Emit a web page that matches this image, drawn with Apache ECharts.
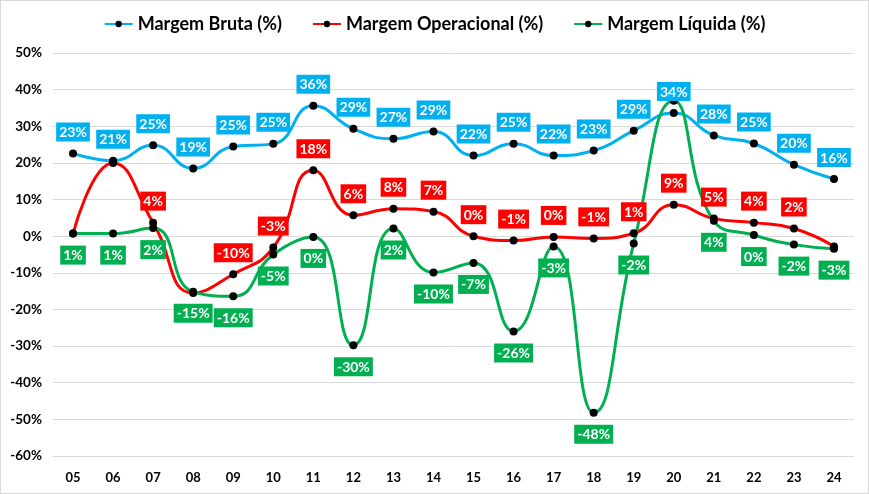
<!DOCTYPE html>
<html>
<head>
<meta charset="utf-8">
<script src="https://cdn.jsdelivr.net/npm/echarts@6/dist/echarts.min.js"></script>
<style>
html,body{margin:0;padding:0;background:#fff;}
#c{width:869px;height:494px;box-sizing:border-box;border:1px solid #d9d9d9;}
</style>
</head>
<body>
<div id="c"></div>
<script>
var categories = ['05','06','07','08','09','10','11','12','13','14','15','16','17','18','19','20','21','22','23','24'];
var margemBruta = [22.6,20.6,24.8,18.5,24.5,25.2,35.6,29.3,26.6,28.6,22.0,25.2,22.0,23.4,28.8,33.6,27.5,25.3,19.5,15.6];
var margemOperacional = [0.7,20.0,3.7,-15.5,-10.4,-3.1,18.0,5.7,7.5,6.7,0.0,-1.2,-0.2,-0.6,0.8,8.6,4.8,3.7,2.1,-2.8];
var margemLiquida = [0.7,0.7,2.2,-15.2,-16.4,-5.0,-0.2,-29.8,2.1,-9.9,-7.3,-26.0,-2.8,-48.2,-2.0,37.0,4.2,0.3,-2.3,-3.4];
var hiddenOperacional = [0,1,3,19];
var hiddenLiquida = [15];

var FONT = 'Lato, Carlito, Calibri, sans-serif';
function build(values, hidden){
  return values.map(function(v,i){
    var o = {value:v};
    if (hidden.indexOf(i) >= 0) o.label = {show:false};
    return o;
  });
}
function fmt(p){ var r = Math.round(p.value); if (r === 0) r = 0; return r + '%'; }
function mkSeries(name, color, values, hidden, pos){
  return {
    name: name, type: 'line', smooth: 0.5,
    data: build(values, hidden),
    symbol: 'circle', symbolSize: 8,
    itemStyle: {color: '#000'},
    lineStyle: {color: color, width: 3},
    label: {
      show: true, position: pos, distance: 8,
      formatter: fmt,
      backgroundColor: color, color: '#fff',
      fontFamily: FONT, fontWeight: 'bold', fontSize: 14,
      padding: [3,3,2,3]
    },
    z: 2
  };
}
var chart = echarts.init(document.getElementById('c'));
chart.setOption({
  animation: false,
  legend: {
    top: 9, left: 'center',
    itemWidth: 28, itemHeight: 8, itemGap: 30,
    textStyle: {fontFamily: FONT, fontWeight: 'bold', fontSize: 18, color: '#000'},
    data: ['Margem Bruta (%)','Margem Operacional (%)','Margem Líquida (%)']
  },
  grid: {left: 52, right: 14, top: 52, bottom: 37},
  xAxis: {
    type: 'category', data: categories, boundaryGap: true,
    axisLine: {show: false}, axisTick: {show: false},
    axisLabel: {fontFamily: FONT, fontWeight: 'bold', fontSize: 13, color: '#000', margin: 15}
  },
  yAxis: {
    type: 'value', min: -60, max: 50, interval: 10,
    axisLine: {show: false}, axisTick: {show: false},
    splitLine: {lineStyle: {color: '#d9d9d9', width: 1}},
    axisLabel: {formatter: '{value}%', fontFamily: FONT, fontWeight: 'bold', fontSize: 13.5, color: '#000', margin: 11}
  },
  series: [
    mkSeries('Margem Bruta (%)', '#00B0F0', margemBruta, [], 'top'),
    mkSeries('Margem Operacional (%)', '#FF0000', margemOperacional, hiddenOperacional, 'top'),
    mkSeries('Margem Líquida (%)', '#00B050', margemLiquida, hiddenLiquida, 'bottom')
  ]
});
</script>
</body>
</html>
